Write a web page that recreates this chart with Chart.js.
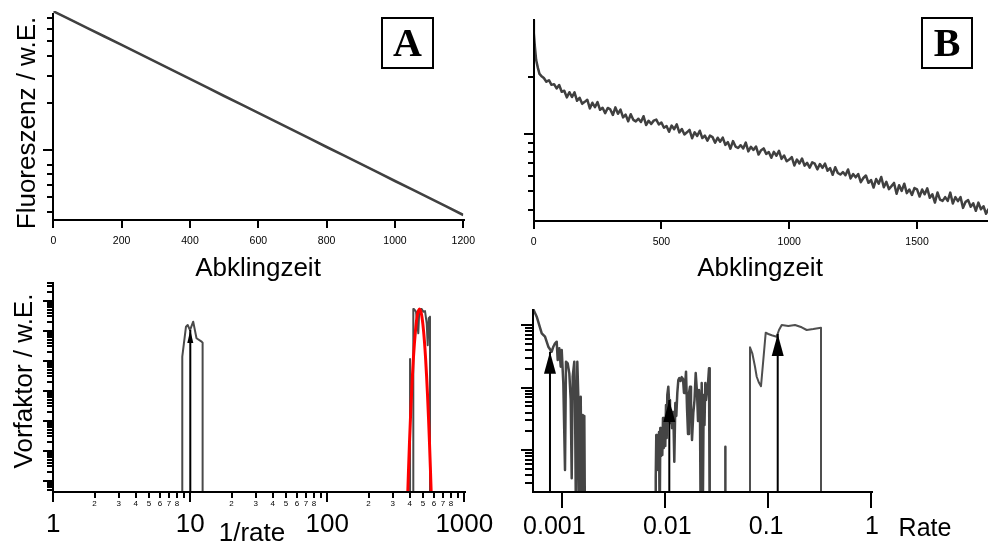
<!DOCTYPE html>
<html>
<head>
<meta charset="utf-8">
<script src="https://cdn.jsdelivr.net/npm/chart.js@4/dist/chart.umd.min.js"></script>
<style>
  body { margin: 0; background: #fff; }
  #fig { position: relative; width: 988px; height: 547px; overflow: hidden; font-family: "Liberation Sans", Arial, sans-serif; color: #000; }
  #fig canvas { position: absolute; left: 0; top: 0; }
  .t { position: absolute; white-space: nowrap; line-height: 1; font-size: 26px; transform: translate(-50%, -50%); }
  .rot { transform: translate(-50%, -50%) rotate(-90deg); }
  .box { position: absolute; box-sizing: border-box; border: 2px solid #000; display: flex; align-items: center; justify-content: center; font: bold 40px "Liberation Serif", "Times New Roman", serif; line-height: 1; }
</style>
</head>
<body>
<div id="fig">
  <canvas id="cA" width="988" height="547"></canvas>
  <canvas id="cB" width="988" height="547"></canvas>
  <canvas id="cC" width="988" height="547"></canvas>
  <canvas id="cD" width="988" height="547"></canvas>

  <div class="t rot" style="left:25.5px; top:122.5px">Fluoreszenz / w.E.</div>
  <div class="t rot" style="left:22.5px; top:381px">Vorfaktor / w.E.</div>
  <div class="t" style="left:258px; top:267px">Abklingzeit</div>
  <div class="t" style="left:760px; top:267px">Abklingzeit</div>
  <div class="t" style="left:252px; top:532px">1/rate</div>
  <div class="t" style="left:925px; top:527px; font-size:25px">Rate</div>
  <div class="box" style="left:381px; top:17px; width:53px; height:52px">A</div>
  <div class="box" style="left:921px; top:17px; width:52px; height:52px">B</div>
</div>

<script>
// ---- panel A: single exponential decay (log y)
const aTimes = [0, 50, 100, 150, 200, 250, 300, 350, 400, 450, 500, 550, 600,
  650, 700, 750, 800, 850, 900, 950, 1000, 1050, 1100, 1150, 1200];
const aSignal = [7750, 6850, 6050, 5345, 4720, 4160, 3670, 3240, 2860, 2520, 2220, 1960, 1730,
  1525, 1345, 1186, 1045, 923, 815, 718, 633, 559, 493, 435, 383];
const aTimeTicks = [0, 200, 400, 600, 800, 1000, 1200];
const aMajorY = [1000];
const aMinorY = [400, 500, 600, 700, 800, 2000, 3000, 4000, 5000, 6000, 7000];

// ---- panel B: multi-exponential noisy decay (log y)
const bHeadTimes = [0, 1, 5, 10, 17, 23, 30];
const bHeadSignal = [398, 339, 288, 245, 222, 207, 202];
const bTailStart = 40, bTailStep = 10;
const bTailSignal = [
  196.9, 188.1, 191.8, 181.3, 182.8, 173.5,
  181, 166.6, 168.7, 155.8, 165.8, 156.4, 165.4, 149.4, 155, 144,
  147.5, 151.4, 136.3, 145.9, 138.2, 147, 133.9, 137.4, 128.6, 137,
  134.6, 125.8, 138, 127.7, 134.4, 122.2, 126.3, 116.6, 126.9, 118.6,
  116.4, 120.2, 115.6, 124, 111.4, 117.3, 112.9, 117.5, 119, 112.1,
  114.9, 107.8, 110.1, 102.6, 110.7, 105.9, 112.4, 101.9, 106.1, 99.4,
  102, 105.1, 94.9, 102, 97.5, 104, 95.1, 98, 92.2, 97.9,
  96.2, 89.8, 95.5, 91, 95.7, 87.6, 90.5, 83.6, 91.7, 85.8,
  84.3, 87.2, 83.9, 90, 80.9, 85.5, 82.4, 85.9, 77.9, 82.1,
  83.9, 78.5, 80.3, 74.9, 80.5, 76.8, 81.5, 73.9, 77, 71.8,
  73.3, 75.5, 68.2, 73.3, 69.9, 74.2, 68.1, 70.4, 66.4, 70.8,
  69.7, 65.1, 69.4, 66.3, 69.8, 64, 66.1, 60.9, 66.8, 62.3,
  61.1, 63, 60.6, 65, 58.3, 61.4, 59.1, 61.5, 55.7, 58.6,
  60.4, 55.3, 57.2, 52.2, 57.9, 54.7, 59.3, 52.4, 55.9, 51.2,
  53.1, 55.2, 48.4, 53.7, 50.1, 54.7, 48.8, 51, 47.7, 51.9,
  51.1, 46.8, 51, 48.1, 51.7, 46.1, 48.1, 43.5, 49.2, 45.1,
  44.4, 46.5, 44.4, 49.1, 43, 46.5, 44.3, 46.5, 40.8, 43.9,
  44.8, 41.4, 43.1, 39.4, 43.5, 40.1, 41.6, 38, 40.3
];
const bTimeTicks = [0, 500, 1000, 1500];
const bMajorY = [100];
const bMinorY = [40, 50, 60, 70, 80, 90, 200];

// ---- panel C: prefactor vs 1/rate (log-log)
const cPeak1X = [8.74, 8.74, 9.30, 9.57, 9.95, 10.5, 11.1, 12.1, 12.3, 12.3];
const cPeak1Y = [0.01, 1.36e4, 1.36e5, 1.55e5, 1.05e5, 2.0e5, 5.6e4, 4.3e4, 4.0e4, 0.01];
const cPeak2X = [401.5, 401.5, 402, 424.4, 424.4, 429.5, 444, 461.5, 469.4, 488.7,
  502, 516.7, 531.6, 540.7, 549.8, 561.8, 561.8];
const cPeak2Y = [0.01, 1.14e4, 0.01, 0.01, 5.3e5, 5.3e5, 4.3e5, 8.2e4, 4.9e5, 5.3e5,
  4.3e5, 4.5e5, 1.77e5, 3.3e4, 2.6e5, 2.9e5, 0.01];
const cFitX = [378.6, 386.9, 398, 411.8, 425.7, 440.4, 455.3, 471, 487, 503.8, 521, 538.7, 557, 573, 586];
const cFitY = [0.016, 0.43, 18.8, 753, 1.33e4, 1.02e5, 3.52e5, 5.29e5, 3.52e5, 1.02e5, 1.33e4, 753, 18.8, 0.43, 0.016];
const cArrowX = [10];
const cArrowTip = [1.05e5];
const cMajorX = [1, 10, 100, 1000];
const cMajorXLabels = ['1', '10', '100', '1000'];
const cMinorDigits = [2, 3, 4, 5, 6, 7, 8];

// ---- panel D: prefactor vs rate (log-log)
const dSlowX = [5.23e-4, 5.64e-4, 6.31e-4, 6.79e-4, 7.31e-4, 7.89e-4, 8.18e-4, 8.50e-4, 8.82e-4, 9.02e-4,
  9.35e-4, 9.65e-4, 9.87e-4, 1.023e-3, 1.062e-3, 1.086e-3, 1.128e-3, 1.170e-3, 1.207e-3, 1.234e-3,
  1.262e-3, 1.308e-3, 1.329e-3, 1.359e-3, 1.399e-3, 1.431e-3, 1.463e-3, 1.510e-3, 1.543e-3, 1.579e-3,
  1.625e-3, 1.636e-3, 1.662e-3];
const dSlowY = [181, 138, 74.7, 65.9, 45.5, 37.8, 45.5, 51.6, 54.7, 27.8,
  42.9, 21.7, 40.3, 11.8, 0.477, 26.1, 24.6, 17.0, 6.35, 0.351,
  15.0, 26.1, 6.35, 0.05, 26.1, 7.17, 0.05, 7.17, 0.05, 3.65,
  0.05, 3.52, 0.05];
const dMidX = [8.01e-3, 8.09e-3, 8.19e-3, 8.32e-3, 8.45e-3, 8.57e-3, 8.71e-3, 8.84e-3, 8.96e-3, 9.10e-3,
  9.25e-3, 9.37e-3, 9.52e-3, 9.67e-3, 9.80e-3, 1.002e-2, 1.018e-2, 1.034e-2, 1.048e-2, 1.072e-2,
  1.089e-2, 1.113e-2, 1.139e-2, 1.165e-2, 1.199e-2, 1.226e-2, 1.254e-2, 1.282e-2, 1.311e-2, 1.341e-2,
  1.371e-2, 1.408e-2, 1.447e-2, 1.489e-2, 1.523e-2, 1.557e-2, 1.593e-2, 1.629e-2, 1.666e-2, 1.703e-2,
  1.742e-2, 1.781e-2, 1.822e-2, 1.876e-2, 1.927e-2, 1.979e-2, 2.037e-2, 2.084e-2, 2.131e-2, 2.179e-2,
  2.213e-2, 2.263e-2, 2.314e-2, 2.366e-2, 2.409e-2, 2.453e-2, 2.492e-2, 2.548e-2, 2.606e-2, 2.665e-2,
  2.707e-2, 3.0e-2, 3.837e-2, 3.837e-2, 3.85e-2];
const dMidY = [0.05, 0.355, 1.74, 0.478, 1.45, 0.553, 1.95, 0.05, 2.25, 0.80,
  2.09, 0.83, 3.26, 1.08, 2.52, 1.16, 5.28, 1.56, 7.64, 10.4,
  6.35, 2.71, 4.39, 2.25, 4.07, 0.649, 5.68, 3.51, 8.22, 13.3,
  14.3, 12.8, 14.8, 13.8, 8.22, 10.3, 18.1, 4.72, 1.81, 8.22,
  10.4, 5.28, 1.45, 3.93, 6.35, 17.2, 8.53, 2.92, 9.19, 3.51,
  0.05, 11.9, 0.05, 7.64, 2.52, 11.9, 6.35, 8.85, 11.9, 20.5,
  0.05, null, 0.05, 1.13, 0.05];
const dFastX = [6.67e-2, 6.67e-2, 7.02e-2, 7.46e-2, 7.75e-2, 8.16e-2, 8.53e-2, 8.98e-2, 9.48e-2, 0.1005,
  0.1084, 0.1212, 0.1276, 0.1356, 0.1572, 0.1826, 0.2121, 0.2372, 0.2750, 0.3267, 0.3267];
const dFastY = [0.05, 44.5, 35.7, 21.7, 15.0, 12.0, 10.6, 27.8, 76.4, 72.8,
  69.4, 65.9, 84.4, 101.5, 97.8, 101.5, 93.2, 84.4, 87.5, 91.9, 0.05];
const dArrowX = [7.59e-4, 1.096e-2, 0.124];
const dArrowTip = [37.8, 6.35, 72.8];
const dMajorX = [0.001, 0.01, 0.1, 1];
const dMajorXLabels = ['0.001', '0.01', '0.1', '1'];
const dMajorY = [1, 10, 100];

// ---------------------------------------------------------------
const SANS = '"Liberation Sans", Arial, sans-serif';
const TRACE = '#404040';
const W = 988, H = 547;

const xy = (xs, ys) => xs.map((x, i) => ({ x, y: ys[i] }));

// log minor ticks 2..9 x 10^k, kept inside [lo, hi]
function logMinor(lo, hi) {
  const out = [];
  for (let e = Math.floor(Math.log10(lo)); e <= Math.ceil(Math.log10(hi)); e++) {
    for (let s = 2; s <= 9; s++) {
      const v = s * Math.pow(10, e);
      if (v >= lo && v <= hi) out.push(v);
    }
  }
  return out;
}
const leadDigit = v => Math.round(v / Math.pow(10, Math.floor(Math.log10(v) + 1e-9)));

// draws the axis lines, tick marks, tick labels and arrow heads
function axesPainter(spec) {
  return {
    id: 'axesPainter',
    afterDatasetsDraw(chart) {
      const { ctx, chartArea: a } = chart;
      const sx = chart.scales.x, sy = chart.scales.y;
      ctx.save();
      chart.data.datasets.forEach((ds, i) => {
        if (!ds.arrowHead) return;
        const pts = chart.getDatasetMeta(i).data;
        const tip = pts[pts.length - 1];
        const [w, h] = ds.arrowHead;
        ctx.fillStyle = '#000';
        ctx.beginPath();
        ctx.moveTo(tip.x, tip.y);
        ctx.lineTo(tip.x - w / 2, tip.y + h);
        ctx.lineTo(tip.x + w / 2, tip.y + h);
        ctx.closePath();
        ctx.fill();
      });
      ctx.strokeStyle = '#000';
      ctx.lineWidth = 2;
      ctx.lineCap = 'butt';
      ctx.lineJoin = 'miter';
      const L = Math.round(a.left), B = Math.round(a.bottom);
      ctx.beginPath();
      ctx.moveTo(L, spec.yTop);
      ctx.lineTo(L, B);
      ctx.lineTo(spec.xEnd, B);
      ctx.stroke();
      ctx.beginPath();
      spec.xTicks.forEach(([v, len]) => {
        const x = Math.round(sx.getPixelForValue(v));
        ctx.moveTo(x, B); ctx.lineTo(x, B + len);
      });
      spec.yTicks.forEach(([v, len]) => {
        const y = Math.round(sy.getPixelForValue(v));
        ctx.moveTo(L, y); ctx.lineTo(L - len, y);
      });
      ctx.stroke();
      ctx.fillStyle = '#000';
      ctx.textAlign = 'center';
      ctx.textBaseline = 'middle';
      spec.xLabels.forEach(g => {
        ctx.font = g.font;
        g.values.forEach((v, i) => {
          const shift = g.dx ? g.dx[i] : 0;
          ctx.fillText(g.texts[i], sx.getPixelForValue(v) + shift, B + g.dy);
        });
      });
      ctx.restore();
    }
  };
}

function makeChart(id, datasets, area, x, y, spec) {
  return new Chart(document.getElementById(id), {
    type: 'line',
    data: { datasets },
    options: {
      responsive: false,
      animation: false,
      events: [],
      layout: { padding: { left: area[0], top: area[1], right: W - area[2], bottom: H - area[3] } },
      elements: {
        point: { radius: 0 },
        line: { tension: 0, borderJoinStyle: 'round', fill: false }
      },
      plugins: { legend: { display: false }, tooltip: { enabled: false } },
      scales: {
        x: Object.assign({ display: false, bounds: 'data' }, x),
        y: Object.assign({ display: false, bounds: 'data' }, y)
      }
    },
    plugins: [axesPainter(spec)]
  });
}

function arrowSets(xs, tips, floor, head) {
  return xs.map((x, i) => ({
    data: [{ x, y: floor }, { x, y: tips[i] }],
    borderColor: '#000', borderWidth: 2, arrowHead: head
  }));
}

// ---- A
makeChart('cA',
  [{ data: xy(aTimes, aSignal), borderColor: TRACE, borderWidth: 2.6 }],
  [53.3, 11, 463.3, 220],
  { type: 'linear', min: 0, max: 1200 },
  { type: 'logarithmic', min: 355.9, max: 7785 },
  {
    yTop: 13, xEnd: 465,
    xTicks: aTimeTicks.map(v => [v, 8]),
    yTicks: aMajorY.map(v => [v, 10]).concat(aMinorY.map(v => [v, 6])),
    xLabels: [{ values: aTimeTicks, texts: aTimeTicks.map(String), font: '10.5px ' + SANS, dy: 21 }]
  });

// ---- B
const bTimes = bHeadTimes.concat(bTailSignal.map((_, i) => bTailStart + i * bTailStep));
const bSignal = bHeadSignal.concat(bTailSignal);
makeChart('cB',
  [{ data: xy(bTimes, bSignal), borderColor: TRACE, borderWidth: 2.5 }],
  [533.6, 19, 988, 221],
  { type: 'linear', min: 0, max: 1777.6 },
  { type: 'logarithmic', min: 34.8, max: 402.7 },
  {
    yTop: 19, xEnd: 988,
    xTicks: bTimeTicks.map(v => [v, 8]),
    yTicks: bMajorY.map(v => [v, 10]).concat(bMinorY.map(v => [v, 6])),
    xLabels: [{ values: bTimeTicks, texts: bTimeTicks.map(String), font: '10.5px ' + SANS, dy: 21 }]
  });

// ---- C
const cYMin = 0.43, cYMax = 4.2e6;
const cMajorY = [1, 10, 100, 1e3, 1e4, 1e5, 1e6];
const cMinorX = logMinor(1, 1000);
const cMinorLabelX = cMinorX.filter(v => cMinorDigits.includes(leadDigit(v)));
makeChart('cC',
  arrowSets(cArrowX, cArrowTip, cYMin, [6, 13]).concat([
    { data: xy(cFitX, cFitY), borderColor: '#ff0000', borderWidth: 3, tension: 0.3 },
    { data: xy(cPeak1X, cPeak1Y), borderColor: '#4a4a4a', borderWidth: 2 },
    { data: xy(cPeak2X, cPeak2Y), borderColor: '#4a4a4a', borderWidth: 2 }
  ]),
  [53.3, 282, 464.3, 491.7],
  { type: 'logarithmic', min: 1, max: 1000 },
  { type: 'logarithmic', min: cYMin, max: cYMax },
  {
    yTop: 282, xEnd: 466,
    xTicks: cMajorX.map(v => [v, 10]).concat(cMinorX.map(v => [v, 6])),
    yTicks: cMajorY.map(v => [v, 10]).concat(logMinor(cYMin, cYMax).map(v => [v, 6])),
    xLabels: [
      { values: cMinorLabelX, texts: cMinorLabelX.map(v => String(leadDigit(v))), font: '8px ' + SANS, dy: 11.5 },
      { values: cMajorX, texts: cMajorXLabels, font: '26px ' + SANS, dy: 32.5 }
    ]
  });

// ---- D
const dYMin = 0.2142, dYMax = 183.4;
makeChart('cD',
  arrowSets(dArrowX, dArrowTip, dYMin, [12, 22]).concat([
    { data: xy(dSlowX, dSlowY), borderColor: '#454545', borderWidth: 2.5 },
    { data: xy(dMidX, dMidY), borderColor: '#454545', borderWidth: 2.5 },
    { data: xy(dFastX, dFastY), borderColor: '#4f4f4f', borderWidth: 2 }
  ]),
  [533, 309, 871, 491.7],
  { type: 'logarithmic', min: 5.19e-4, max: 1 },
  { type: 'logarithmic', min: dYMin, max: dYMax },
  {
    yTop: 309, xEnd: 873,
    xTicks: dMajorX.map(v => [v, 16]),
    yTicks: dMajorY.map(v => [v, 12]).concat(logMinor(dYMin, dYMax).map(v => [v, 8])),
    xLabels: [{ values: dMajorX, texts: dMajorXLabels, font: '25px ' + SANS, dy: 35, dx: [-8, 2, -2, 1] }]
  });
</script>
</body>
</html>
